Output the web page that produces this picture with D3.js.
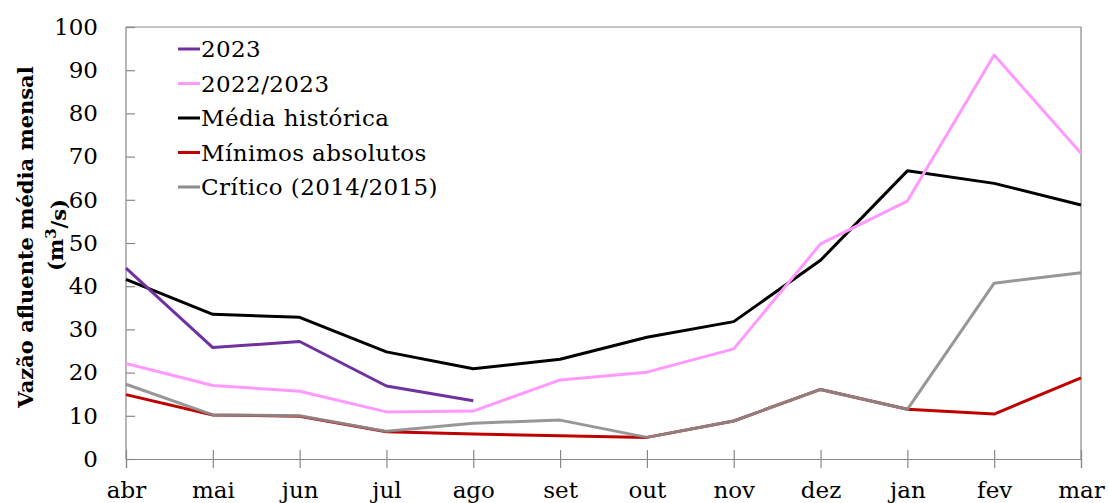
<html>
  <head>
    <title>Vazão afluente</title>
    <script src="https://cdn.jsdelivr.net/npm/d3@7"></script>
    <style>
body {
  margin: 0;
  background: #fff;
}
svg text {
  font-family: "DejaVu Serif", serif;
}
.axis text {
  font-size: 23px;
  fill: #000;
}
.axis path, .axis line {
  stroke: #888;
  stroke-width: 1.2px;
}
.line {
  fill: none;
  stroke-width: 3px;
  stroke-linejoin: round;
}
.legend text {
  font-size: 23px;
  letter-spacing: 0.4px;
}
.ytitle {
  font-weight: bold;
  font-size: 21px;
}
    </style>
  </head>
  <body>
    <script>

var months = ["abr", "mai", "jun", "jul", "ago", "set", "out", "nov", "dez", "jan", "fev", "mar"];
var yTicks = [0, 10, 20, 30, 40, 50, 60, 70, 80, 90, 100];

var s2023 = [44.2, 25.8, 27.2, 16.9, 13.5];
var s2022 = [22.1, 17.0, 15.7, 10.9, 11.1, 18.3, 20.1, 25.5, 49.8, 59.7, 93.5, 70.8];
var media = [41.6, 33.5, 32.8, 24.8, 20.9, 23.1, 28.2, 31.8, 46.0, 66.7, 63.8, 58.8];
var minimos = [14.9, 10.2, 9.9, 6.3, 5.8, 5.4, 5.0, 8.8, 16.1, 11.5, 10.4, 18.8];
var critico = [17.3, 10.2, 10.0, 6.4, 8.3, 9.0, 5.0, 8.8, 16.1, 11.5, 40.7, 43.1];

var series = [
  {name: "2023", color: "#7030a0", values: s2023},
  {name: "2022/2023", color: "#ff99ff", values: s2022},
  {name: "Média histórica", color: "#000000", values: media},
  {name: "Mínimos absolutos", color: "#c00000", values: minimos},
  {name: "Crítico (2014/2015)", color: "#8c8c8c", values: critico}
];

var W = 1109, H = 503,
    mLeft = 126, mRight = 1081, mTop = 27, mBottom = 459;

var x = d3.scalePoint().domain(months).range([mLeft, mRight]);
var y = d3.scaleLinear().domain([0, 100]).range([mBottom, mTop]);

var svg = d3.select("body").append("svg")
    .attr("width", W)
    .attr("height", H);

// plot frame (top and right)
svg.append("path")
    .attr("d", "M" + mLeft + "," + mTop + "H" + mRight + "V" + mBottom)
    .attr("fill", "none")
    .attr("stroke", "#888")
    .attr("stroke-width", 1.2);

var yAxis = svg.append("g")
    .attr("class", "axis")
    .attr("transform", "translate(" + mLeft + ",0)")
    .call(d3.axisLeft(y).tickValues(yTicks).tickSizeInner(-9).tickSizeOuter(0).tickPadding(28));
yAxis.select(".domain").attr("d", "M0," + mBottom + "V" + mTop);

var xAxis = svg.append("g")
    .attr("class", "axis")
    .attr("transform", "translate(0," + mBottom + ")")
    .call(d3.axisBottom(x).tickSizeOuter(0).tickSize(9).tickPadding(14));
xAxis.selectAll(".tick line").attr("y1", -9);
svg.selectAll(".axis").attr("font-family", null).attr("font-size", null);

var line = d3.line()
    .x(function(d, i) { return x(months[i]); })
    .y(function(d) { return y(d); });

// draw order: red under gray, then others
var order = [3, 4, 2, 1, 0];
svg.selectAll("path.line")
    .data(order.map(function(i) { return series[i]; }))
  .enter().append("path")
    .attr("class", "line")
    .attr("stroke", function(d) { return d.color; })
    .attr("stroke-opacity", function(d) { return d.name.indexOf("Crítico") === 0 ? 0.9 : 1; })
    .attr("d", function(d) { return line(d.values); });

var legend = svg.append("g")
    .attr("class", "legend")
    .selectAll("g")
    .data(series)
  .enter().append("g")
    .attr("transform", function(d, i) { return "translate(178," + (49 + i * 34.5) + ")"; });

legend.append("line")
    .attr("x1", 0).attr("x2", 22)
    .attr("stroke", function(d) { return d.color; })
    .attr("stroke-width", 3);

legend.append("text")
    .attr("x", 23)
    .attr("dy", "0.36em")
    .text(function(d) { return d.name; });

svg.append("text")
    .attr("class", "ytitle")
    .attr("transform", "translate(33,237) rotate(-90)")
    .attr("text-anchor", "middle")
    .text("Vazão afluente média mensal");

var unit = svg.append("text")
    .attr("class", "ytitle")
    .attr("transform", "translate(63,235) rotate(-90)")
    .attr("text-anchor", "middle");
unit.append("tspan").text("(m");
unit.append("tspan").attr("dy", "-0.45em").style("font-size", "15px").text("3");
unit.append("tspan").attr("dy", "0.45em").text("/s)");

    </script>
  </body>
</html>
